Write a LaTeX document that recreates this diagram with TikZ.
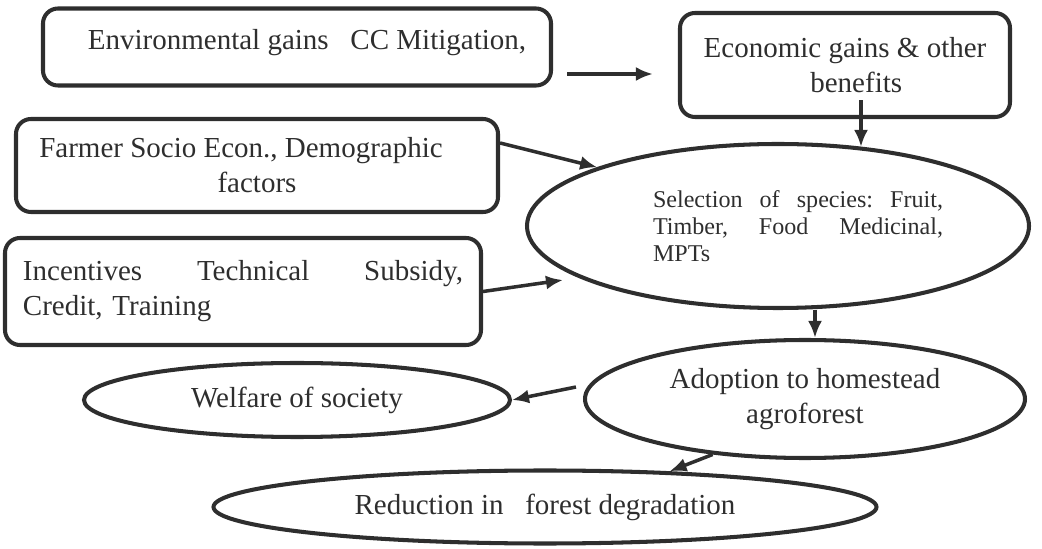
\documentclass[tikz,border=0pt]{standalone}
\usepackage{fontspec}
\setmainfont{Liberation Serif}
\usetikzlibrary{shapes.geometric,arrows.meta}
\definecolor{ink}{HTML}{2E2E2E}
\begin{document}
\begin{tikzpicture}[node distance=2cm]
        % Style Definitions
        \tikzstyle{factor} = [rectangle, rounded corners=0.3cm, draw=ink, line width=2.3pt, text=ink, font=\fontsize{16.5}{20}\selectfont]
        \tikzstyle{stage} = [ellipse, draw=ink, line width=2.3pt, text=ink, inner sep=0pt, font=\fontsize{16.5}{20}\selectfont]
        \tikzstyle{flow} = [-{Latex[length=0.34cm,width=0.28cm]}, draw=ink, line width=2pt]

        \useasboundingbox (0,0) rectangle (20.84,-10.98);

        % Nodes
        \node (env) [factor, minimum width=10.16cm, minimum height=1.54cm, text depth=0.32cm] at (5.94,-0.94) {\hspace*{0.4cm}Environmental gains\ \ \ CC Mitigation,};
        \node (econ) [factor, right of=env, xshift=8.96cm, yshift=-0.36cm, minimum width=6.6cm, minimum height=2.08cm, align=center] {Economic gains \& other\\\hspace*{0.45cm}benefits};
        \node (farmer) [factor, below of=env, xshift=-0.8cm, yshift=-0.37cm, minimum width=9.64cm, minimum height=1.86cm, align=center] {Farmer Socio Econ., Demographic\hspace*{0.64cm}\\factors};
        \node (incent) [factor, below of=farmer, xshift=-0.28cm, yshift=-0.52cm, minimum width=9.52cm, minimum height=2.14cm, text width=8.8cm, align=left] {Incentives\hfill Technical\hfill Subsidy,\\Credit, Training};
        \node (select) [stage, below of=econ, xshift=-1.34cm, yshift=-1.22cm, minimum width=10.04cm, minimum height=3.28cm, font=\fontsize{13.7}{15.5}\selectfont] {\hspace*{0.8cm}\parbox{5.8cm}{\noindent Selection\hfill of\hfill species:\hfill Fruit,\\Timber,\hfill Food\hfill Medicinal,\\MPTs}};
        \node (adopt) [stage, below of=select, xshift=0.54cm, yshift=-1.46cm, minimum width=8.8cm, minimum height=2.36cm, align=center] {Adoption to homestead\\agroforest};
        \node (welfare) [stage, below of=incent, xshift=1.08cm, yshift=-0.17cm, minimum width=8.52cm, minimum height=1.48cm] {Welfare of society};
        \node (reduce) [stage, below of=adopt, xshift=-5.2cm, yshift=-0.16cm, minimum width=13.26cm, minimum height=1.46cm] {Reduction in\ \ \ forest degradation};

        % Arrows
        \draw[flow] ([xshift=0.28cm, yshift=-0.54cm]env.east) -- ([xshift=-0.5cm, yshift=-0.18cm]econ.west);
        \draw[flow] ([xshift=0.32cm, yshift=0.38cm]econ.south) -- ([xshift=0.32cm, yshift=-0.1cm]econ.south |- select.north);
        \draw[flow] ([yshift=-0.52cm]farmer.north east) -- (select.162);
        \draw[flow] (incent.east) -- ([xshift=0.76cm, yshift=-1.08cm]select.west);
        \draw[flow] ([xshift=0.74cm]select.south) -- ([xshift=0.74cm]select.south |- adopt.north);
        \draw[flow] ([xshift=-0.14cm, yshift=0.24cm]adopt.west) -- (welfare.east);
        \draw[flow] (adopt.211) -- (reduce.16);

\end{tikzpicture}
\end{document}
